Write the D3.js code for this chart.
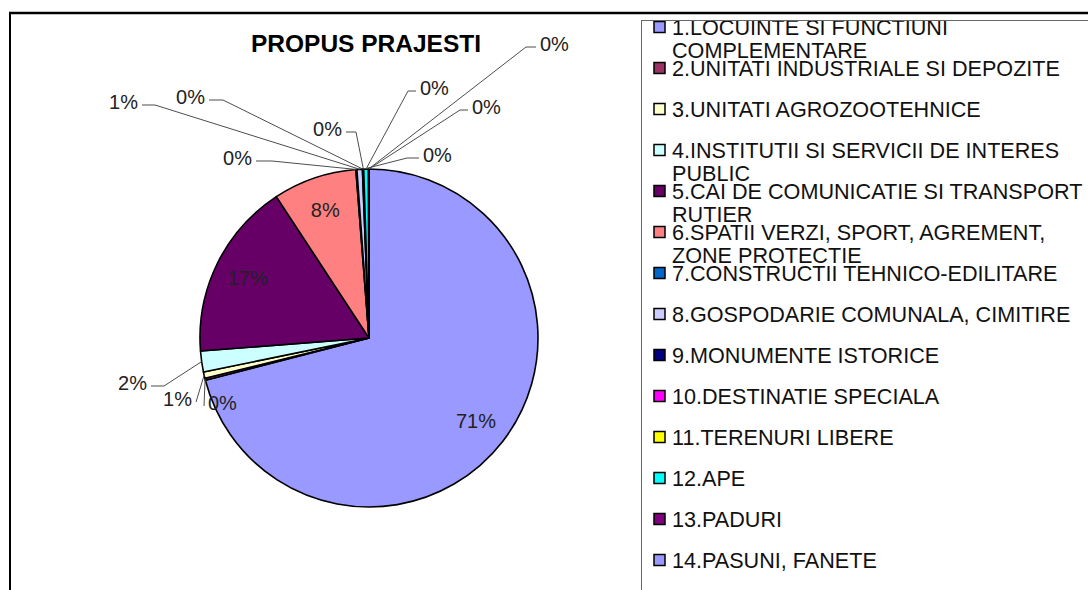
<!DOCTYPE html>
<html>
<head>
<meta charset="utf-8">
<script src="https://cdn.jsdelivr.net/npm/d3@7"></script>
<style>
  body { margin: 0; background: #fff; }
  text { font-family: "Liberation Sans", Arial, sans-serif; }
</style>
</head>
<body>
<svg width="1088" height="590"></svg>
<script>
var title = 'PROPUS PRAJESTI';

var categories = [
  '1.LOCUINTE SI FUNCTIUNI COMPLEMENTARE',
  '2.UNITATI INDUSTRIALE SI DEPOZITE',
  '3.UNITATI AGROZOOTEHNICE',
  '4.INSTITUTII SI SERVICII DE INTERES PUBLIC',
  '5.CAI DE COMUNICATIE SI TRANSPORT RUTIER',
  '6.SPATII VERZI, SPORT, AGREMENT, ZONE PROTECTIE',
  '7.CONSTRUCTII TEHNICO-EDILITARE',
  '8.GOSPODARIE COMUNALA, CIMITIRE',
  '9.MONUMENTE ISTORICE',
  '10.DESTINATIE SPECIALA',
  '11.TERENURI LIBERE',
  '12.APE',
  '13.PADURI',
  '14.PASUNI, FANETE'
];

// share of total area (%)
var values = [71.0, 0.2, 0.6, 2.0, 17.0, 8.0, 0.1, 0.52, 0.08, 0.02, 0.02, 0.45, 0.03, 0.02];

var colors = ['#9999ff', '#993366', '#ffffcc', '#ccffff', '#660066', '#ff8080', '#0066cc',
              '#ccccff', '#000080', '#ff00ff', '#ffff00', '#00ffff', '#800080', '#9999ff'];

// hand placed callouts for the thin slices (Excel style), null = label inside slice
var callouts = [
  null,
  {x: 208, y: 403, side: 'right', h: 0},
  {x: 192, y: 399, side: 'left', h: 0},
  {x: 147, y: 383, side: 'left', h: 13},
  null,
  null,
  {x: 252, y: 158, side: 'left', h: 16},
  {x: 138, y: 102, side: 'left', h: 13},
  {x: 205, y: 97, side: 'left', h: 14},
  {x: 342, y: 129, side: 'left', h: 10},
  {x: 423, y: 155, side: 'right', h: 12},
  {x: 420, y: 88, side: 'right', h: 8},
  {x: 540, y: 44, side: 'right', h: 10},
  {x: 472, y: 107, side: 'right', h: 8}
];

var svg = d3.select('svg');
var cx = 369, cy = 338, R = 169;

// frame
svg.append('line').attr('x1', 9).attr('x2', 1088).attr('y1', 13).attr('y2', 13)
   .attr('stroke', '#000').attr('stroke-width', 2.5);
svg.append('line').attr('x1', 10).attr('x2', 10).attr('y1', 13).attr('y2', 590)
   .attr('stroke', '#000').attr('stroke-width', 2);

svg.append('text')
   .attr('x', 366).attr('y', 52)
   .attr('text-anchor', 'middle')
   .style('font-size', '24.5px').style('font-weight', 'bold')
   .text(title);

var total = d3.sum(values);
var pie = d3.pie().sort(null).value(function(d) { return d; });
var arcs = pie(values);
var arc = d3.arc().innerRadius(0).outerRadius(R);
var labelArc = d3.arc().innerRadius(R * 0.8).outerRadius(R * 0.8);
var pct = function(v) { return Math.round(v / total * 100) + '%'; };

var g = svg.append('g').attr('transform', 'translate(' + cx + ',' + cy + ')');

g.selectAll('path.slice')
  .data(arcs)
  .enter()
  .append('path')
    .attr('class', 'slice')
    .attr('d', arc)
    .attr('fill', function(d, i) { return colors[i]; })
    .attr('stroke', '#000')
    .attr('stroke-width', 1.6)
    .attr('stroke-linejoin', 'round');

// labels inside the big slices
g.selectAll('text.inner')
  .data(arcs.filter(function(d, i) { return !callouts[i]; }))
  .enter()
  .append('text')
    .attr('class', 'inner')
    .attr('transform', function(d) { return 'translate(' + labelArc.centroid(d) + ')'; })
    .attr('text-anchor', 'middle')
    .attr('dy', '0.35em')
    .style('font-size', '20px')
    .attr('fill', '#222')
    .text(function(d) { return pct(d.value); });

// callouts with leader lines
var outer = arcs.map(function(d, i) { return {d: d, c: callouts[i]}; })
               .filter(function(o) { return o.c; });

svg.selectAll('path.leader')
  .data(outer)
  .enter()
  .append('path')
    .attr('class', 'leader')
    .attr('fill', 'none')
    .attr('stroke', '#4d4d4d')
    .attr('stroke-width', 1)
    .attr('d', function(o) {
      var a = (o.d.startAngle + o.d.endAngle) / 2;
      var sx = cx + Math.sin(a) * R, sy = cy - Math.cos(a) * R;
      var dir = o.c.side === 'left' ? 1 : -1;
      var ey = o.c.y + 3;
      var ex = o.c.x + dir * 4;
      return 'M' + sx + ',' + sy + 'L' + (ex + dir * o.c.h) + ',' + ey + 'L' + ex + ',' + ey;
    });

svg.selectAll('text.outer')
  .data(outer)
  .enter()
  .append('text')
    .attr('class', 'outer')
    .attr('x', function(o) { return o.c.x; })
    .attr('y', function(o) { return o.c.y; })
    .attr('dy', '0.35em')
    .attr('text-anchor', function(o) { return o.c.side === 'left' ? 'end' : 'start'; })
    .style('font-size', '20px')
    .attr('fill', '#222')
    .text(function(o) { return pct(o.d.value); });

// legend
svg.append('defs').append('clipPath').attr('id', 'legclip')
   .append('rect').attr('x', 641).attr('y', 21).attr('width', 447).attr('height', 569);

svg.append('rect')
   .attr('x', 641.5).attr('y', 20.5).attr('width', 460).attr('height', 600)
   .attr('fill', 'none').attr('stroke', '#666').attr('stroke-width', 1);

var leg = svg.append('g').attr('clip-path', 'url(#legclip)');
var rowY = d3.scalePoint().domain(d3.range(categories.length)).range([27, 560]);

var items = leg.selectAll('g.item')
  .data(categories)
  .enter()
  .append('g')
    .attr('class', 'item')
    .attr('transform', function(d, i) { return 'translate(0,' + rowY(i) + ')'; });

items.append('rect')
  .attr('x', 654).attr('y', -5.5).attr('width', 11).attr('height', 11)
  .attr('fill', function(d, i) { return colors[i]; })
  .attr('stroke', '#000').attr('stroke-width', 1.5);

items.append('text')
  .attr('x', 672)
  .attr('y', 0)
  .style('font-size', '21.6px')
  .attr('fill', '#111')
  .each(function(d) {
    var t = d3.select(this);
    var words = d.split(' ');
    var line = [];
    var tspan = t.append('tspan').attr('x', 672).attr('dy', '0.36em');
    words.forEach(function(w) {
      line.push(w);
      tspan.text(line.join(' '));
      if (tspan.node().getComputedTextLength() > 414 && line.length > 1) {
        line.pop();
        tspan.text(line.join(' '));
        line = [w];
        tspan = t.append('tspan').attr('x', 672).attr('dy', 23).text(w);
      }
    });
  });
</script>
</body>
</html>
